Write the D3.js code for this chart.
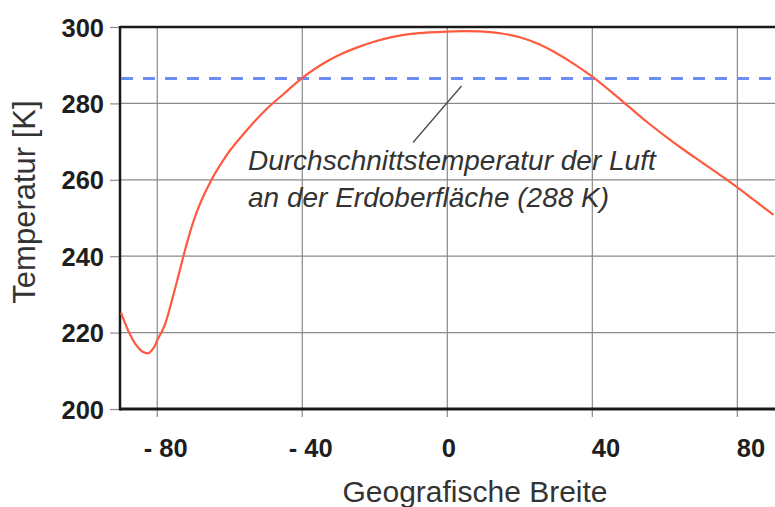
<!DOCTYPE html>
<html>
<head>
<meta charset="utf-8">
<script src="https://cdn.jsdelivr.net/npm/d3@7"></script>
<style>
  html, body { margin: 0; padding: 0; background: #fff; }
  svg { display: block; font-family: "Liberation Sans", Arial, sans-serif; }
</style>
</head>
<body>
<svg id="chart" width="775" height="507"></svg>
<script>
// Breite (Grad) und Temperatur (K)
var latitudes = [-90, -88, -86, -84, -82.5, -81, -80, -78, -76, -74, -72, -70, -68, -65, -62, -60, -55, -50, -45, -40,
                 -35, -30, -25, -20, -15, -10, -5, 0, 5, 10, 15, 20, 25, 30, 35, 40, 45, 50, 55, 60, 65, 70, 75, 80, 85, 90]
var temperatures = [225.2, 220.5, 217, 215, 214.6, 216, 218, 221.8, 228.3, 235.5, 242.8, 249.2, 254.2, 260.1, 264.8, 267.6, 273.3, 278.4, 282.6, 286.7,
                    290, 292.6, 294.6, 296.2, 297.4, 298.2, 298.6, 298.8, 298.9, 298.8, 298.3, 297.3, 295.6, 293.2, 290.3, 287, 283.2, 279.2, 275.2, 271.5, 268, 264.7, 261.4, 258, 254.4, 250.8]
var meanTemp = 286.5
var xTicks = [-80, -40, 0, 40, 80]
var yTicks = [200, 220, 240, 260, 280, 300]
var annotationLines = ['Durchschnittstemperatur der Luft', 'an der Erdoberfläche (288 K)']
var xTitle = 'Geografische Breite'
var yTitle = 'Temperatur [K]'

var svg = d3.select('#chart')
var plotLeft = 120, plotTop = 27, plotBottom = 409, plotRight = 775

var x = d3.scaleLinear().domain([-90, 90]).range([121, 773.6])
var y = d3.scaleLinear().domain([200, 300]).range([plotBottom, plotTop])

var points = latitudes.map(function(d, i){ return [d, temperatures[i]] })

// gitter
svg.append('g')
  .selectAll('line.vgrid').data(xTicks).enter()
  .append('line')
  .attr('class', 'vgrid')
  .attr('x1', function(d){ return x(d) }).attr('x2', function(d){ return x(d) })
  .attr('y1', plotTop).attr('y2', plotBottom + 8)
  .attr('stroke', '#8a8a8a').attr('stroke-width', 1.2)

svg.append('g')
  .selectAll('line.hgrid').data(yTicks.filter(function(d){ return d > 200 && d < 300 })).enter()
  .append('line')
  .attr('class', 'hgrid')
  .attr('x1', plotLeft).attr('x2', plotRight)
  .attr('y1', function(d){ return y(d) }).attr('y2', function(d){ return y(d) })
  .attr('stroke', '#8a8a8a').attr('stroke-width', 1.2)

// y achse mit kleinen strichen
var yAxis = svg.append('g')
  .attr('transform', 'translate(' + plotLeft + ',0)')
  .call(d3.axisLeft(y).tickValues(yTicks).tickSize(10).tickPadding(6))
yAxis.select('.domain').remove()
yAxis.selectAll('line').attr('stroke', '#8a8a8a').attr('stroke-width', 1.2)
yAxis.selectAll('text')
  .attr('font-family', '"Liberation Sans", Arial, sans-serif')
  .attr('font-size', '25.5px').attr('font-weight', 'bold').attr('fill', '#1e1e1e')
  .attr('x', -16).attr('dy', '0.36em')

// x achse
var xAxis = svg.append('g')
  .attr('transform', 'translate(0,' + plotBottom + ')')
  .call(d3.axisBottom(x).tickValues(xTicks).tickSize(0)
    .tickFormat(function(d){ return d < 0 ? '- ' + Math.abs(d) : String(d) }))
xAxis.select('.domain').remove()
xAxis.selectAll('text')
  .attr('font-family', '"Liberation Sans", Arial, sans-serif')
  .attr('font-size', '25.5px').attr('font-weight', 'bold').attr('fill', '#1e1e1e')
  .attr('text-anchor', 'start')
  .attr('y', 48).attr('dy', 0)
  .attr('dx', function(d){ return d < 0 ? -14 : (d === 0 ? -6 : -1) })

// rahmen
svg.append('line').attr('x1', plotLeft).attr('x2', plotRight).attr('y1', plotTop).attr('y2', plotTop)
  .attr('stroke', '#1a1a1a').attr('stroke-width', 2.5)
svg.append('line').attr('x1', plotLeft).attr('x2', plotRight).attr('y1', plotBottom).attr('y2', plotBottom)
  .attr('stroke', '#1a1a1a').attr('stroke-width', 3)
svg.append('line').attr('x1', plotLeft).attr('x2', plotLeft).attr('y1', plotTop - 1).attr('y2', plotBottom + 1.5)
  .attr('stroke', '#1a1a1a').attr('stroke-width', 2.5)

// mittelwert linie
svg.append('line')
  .attr('x1', plotLeft + 1).attr('x2', plotRight)
  .attr('y1', y(meanTemp)).attr('y2', y(meanTemp))
  .attr('stroke', '#6e8cf5').attr('stroke-width', 3)
  .attr('stroke-dasharray', '12,10')

// temperaturkurve
var line = d3.line()
  .x(function(d){ return x(d[0]) })
  .y(function(d){ return y(d[1]) })
  .curve(d3.curveCatmullRom.alpha(0.5))
svg.append('path')
  .datum(points)
  .attr('d', line)
  .attr('fill', 'none')
  .attr('stroke', '#ff5a40')
  .attr('stroke-width', 2.2)

// beschriftung
svg.append('line')
  .attr('x1', 461.5).attr('y1', 86).attr('x2', 413).attr('y2', 142.5)
  .attr('stroke', '#444').attr('stroke-width', 1.2)

svg.selectAll('text.note').data(annotationLines).enter()
  .append('text')
  .attr('class', 'note')
  .attr('x', 248)
  .attr('y', function(d, i){ return 170 + i * 37 })
  .attr('font-size', '28px')
  .attr('font-style', 'italic')
  .attr('fill', '#333')
  .text(function(d){ return d })

svg.append('text')
  .attr('x', 475).attr('y', 502)
  .attr('text-anchor', 'middle')
  .attr('font-size', '30px')
  .attr('fill', '#333')
  .text(xTitle)

svg.append('text')
  .attr('transform', 'translate(35,202) rotate(-90)')
  .attr('text-anchor', 'middle')
  .attr('font-size', '31px')
  .attr('fill', '#333')
  .text(yTitle)
</script>
</body>
</html>
